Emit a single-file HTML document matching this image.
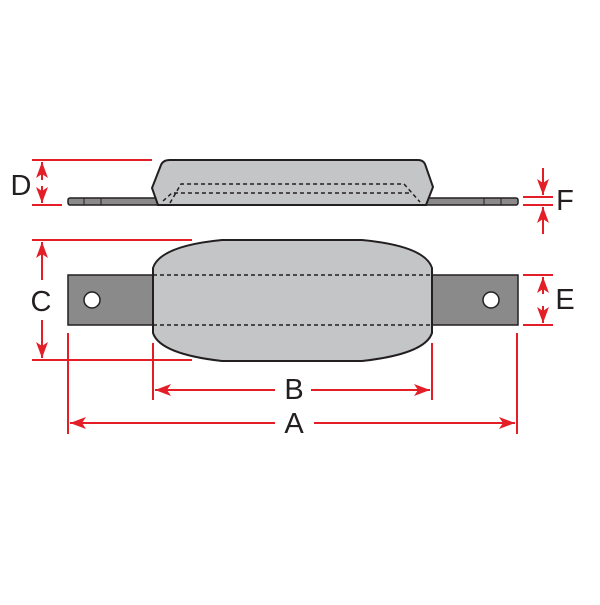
<!DOCTYPE html>
<html><head><style>body{margin:0;background:#fff}</style></head><body>
<svg width="600" height="600" viewBox="0 0 600 600" xmlns="http://www.w3.org/2000/svg">
<defs>
<marker id="ar" viewBox="0 0 16 12" refX="16" refY="6" markerWidth="16" markerHeight="12" markerUnits="userSpaceOnUse" orient="auto"><path d="M0,0 L16,6 L0,12 L4,6 z" fill="#e41e26"/></marker>
</defs>
<!-- top view -->
<rect x="68" y="198" width="450" height="7" rx="2" fill="#8a8a8a" stroke="#231f20" stroke-width="1.5"/>
<line x1="84" y1="198" x2="84" y2="205" stroke="#231f20"/>
<line x1="101" y1="198" x2="101" y2="205" stroke="#231f20"/>
<line x1="484" y1="198" x2="484" y2="205" stroke="#231f20"/>
<line x1="501" y1="198" x2="501" y2="205" stroke="#231f20"/>
<path d="M158,205 L152,188 L161,165 Q163,160 170,160 L418,160 Q423,160 425,164 L433,187 L426,205 Z" fill="#c4c5c7" stroke="#231f20" stroke-width="2"/>
<g fill="none" stroke="#231f20" stroke-width="1.5" stroke-dasharray="4,3">
<path d="M170,203 L181,184 L404,184 L420,202"/>
<path d="M163,201 L172,193 L412,193"/>
</g>
<!-- bottom view -->
<rect x="68" y="275" width="450" height="50" fill="#8a8a8a" stroke="#231f20" stroke-width="1.5"/>
<circle cx="92" cy="300" r="8" fill="#fff" stroke="#231f20" stroke-width="1.5"/>
<circle cx="491" cy="300" r="8" fill="#fff" stroke="#231f20" stroke-width="1.5"/>
<path d="M153,268 Q160,246 222,240 L362,240 Q425,246 432,268 L432,333 Q425,354 362,361 L222,361 Q160,354 153,333 Z" fill="#c4c5c7" stroke="#231f20" stroke-width="2"/>
<line x1="153" y1="275" x2="432" y2="275" stroke="#231f20" stroke-width="1.5" stroke-dasharray="4,3"/>
<line x1="153" y1="325" x2="432" y2="325" stroke="#231f20" stroke-width="1.5" stroke-dasharray="4,3"/>
<!-- dimensions -->
<g stroke="#e41e26" stroke-width="2" fill="none">
<line x1="32" y1="160" x2="152" y2="160"/><line x1="32" y1="205" x2="62" y2="205"/>
<line x1="42" y1="180" x2="42" y2="162" marker-end="url(#ar)"/>
<line x1="42" y1="186" x2="42" y2="203" marker-end="url(#ar)"/>
<line x1="32" y1="240" x2="192" y2="240"/><line x1="32" y1="360" x2="192" y2="360"/>
<line x1="42" y1="280" x2="42" y2="242" marker-end="url(#ar)"/>
<line x1="42" y1="320" x2="42" y2="358" marker-end="url(#ar)"/>
<line x1="153" y1="343" x2="153" y2="400"/><line x1="432" y1="343" x2="432" y2="400"/>
<line x1="275" y1="390" x2="155" y2="390" marker-end="url(#ar)"/>
<line x1="311" y1="390" x2="430" y2="390" marker-end="url(#ar)"/>
<line x1="68" y1="333" x2="68" y2="434"/><line x1="517" y1="333" x2="517" y2="434"/>
<line x1="275" y1="423" x2="70" y2="423" marker-end="url(#ar)"/>
<line x1="314" y1="423" x2="515" y2="423" marker-end="url(#ar)"/>
<line x1="523" y1="275" x2="553" y2="275"/><line x1="523" y1="325" x2="553" y2="325"/>
<line x1="543" y1="294" x2="543" y2="277" marker-end="url(#ar)"/>
<line x1="543" y1="306" x2="543" y2="323" marker-end="url(#ar)"/>
<line x1="523" y1="197" x2="553" y2="197"/><line x1="523" y1="205" x2="553" y2="205"/>
<line x1="543" y1="168" x2="543" y2="195" marker-end="url(#ar)"/>
<line x1="543" y1="234" x2="543" y2="207" marker-end="url(#ar)"/>
</g>
<g font-family="Liberation Sans, sans-serif" font-size="29" fill="#231f20" text-anchor="middle">
<text x="21" y="195">D</text>
<text x="41" y="311">C</text>
<text x="294" y="399">B</text>
<text x="294" y="433">A</text>
<text x="565" y="309">E</text>
<text x="565" y="210">F</text>
</g>
</svg>
</body></html>
